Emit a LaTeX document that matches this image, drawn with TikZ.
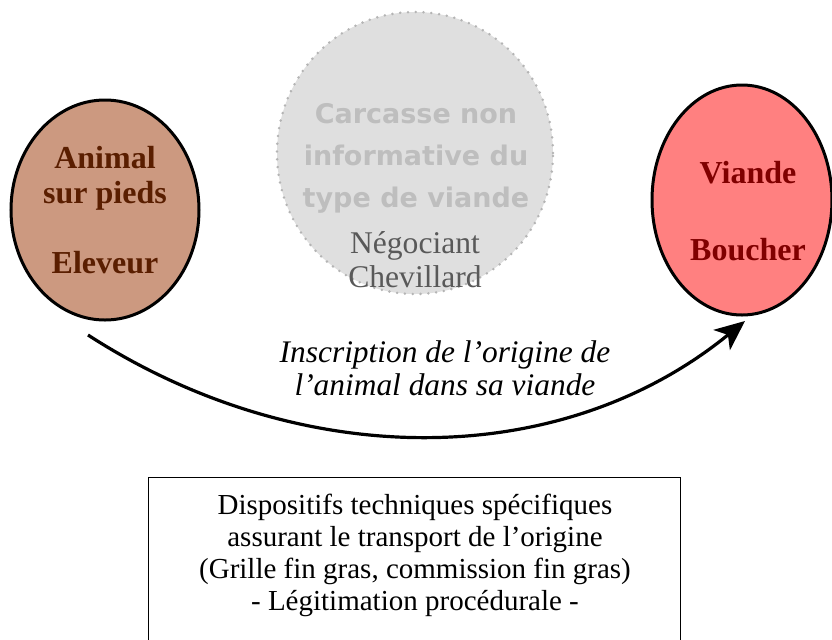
\documentclass[tikz,border=0pt]{standalone}
\usepackage{fontspec}
\setmainfont{Liberation Serif}
\newfontfamily\comicfont{DejaVu Sans}
\usepackage{tikz}
\usetikzlibrary{shapes.geometric, arrows.meta}

\definecolor{tanfill}{RGB}{204,153,128}
\definecolor{tantext}{RGB}{90,30,0}
\definecolor{redfill}{RGB}{255,128,128}
\definecolor{redtext}{RGB}{128,0,0}
\definecolor{greyfill}{RGB}{223,223,223}
\definecolor{greydots}{RGB}{180,180,180}
\definecolor{greytext}{RGB}{190,190,190}
\definecolor{darkgrey}{RGB}{89,89,89}

\tikzset{
    actor/.style={ellipse, draw=black, line width=1.5pt, inner sep=0pt, align=center,
        font=\fontsize{16}{17.5}\selectfont\bfseries},
    ghost/.style={ellipse, draw=greydots, fill=greyfill, line width=1.4pt, line cap=round,
        dash pattern=on 0pt off 3.9pt, inner sep=0pt},
}

\begin{document}
\begin{tikzpicture}[x=0.5pt, y=-0.5pt]
        \useasboundingbox (0,0) rectangle (832,639);
        % the three links of the chain
        \node[actor, fill=tanfill, text=tantext, minimum width=94pt, minimum height=110pt]
            (eleveur) at (105,210) {Animal\\sur pieds\\[17.5pt]Eleveur};
        \node[actor, fill=redfill, minimum width=90pt, minimum height=115pt]
            (boucher) at (742,200) {};
        \node[align=center, text=redtext, font=\fontsize{16}{17.5}\selectfont\bfseries]
            (bouchertxt) at (748,211) {Viande\\[21pt]Boucher};
        \node[ghost, minimum width=138pt, minimum height=141pt] (negociant) at (415,153) {};
        \node[align=center, inner sep=0pt, text=greytext,
            font=\comicfont\bfseries\fontsize{13.5}{21}\selectfont] (carcasse) at (416,158)
            {Carcasse non\\informative du\\type de viande};
        \node[align=center, inner sep=0pt, text=darkgrey,
            font=\fontsize{15.8}{17}\selectfont] (negtxt) at (415,260)
            {N\'egociant\\Chevillard};
        % the origin travels below the carcass
        \coordinate (depart) at (88,335);
        \coordinate (arrivee) at (745,321);
        \draw[line width=1.6pt, -{Stealth[length=15pt, width=13pt, inset=4pt]}]
            (depart) .. controls (300,472) and (560,472) .. (arrivee);
        \node[align=center, font=\fontsize{15.7}{16.5}\selectfont\itshape] (inscription) at (445,368)
            {Inscription de l'origine de\\l'animal dans sa viande};
        % technical devices
        \node[draw=black, line width=0.5pt, minimum width=266pt, minimum height=95pt,
            anchor=north west, inner sep=0pt] (dispositifs) at (148,477) {};
        \node[align=center, font=\fontsize{14.5}{16}\selectfont, anchor=north] (disptxt) at (415,487)
            {Dispositifs techniques sp\'ecifiques\\assurant le transport de l'origine\\
             (Grille fin gras, commission fin gras)\\- L\'egitimation proc\'edurale -};
    \end{tikzpicture}
\end{document}
